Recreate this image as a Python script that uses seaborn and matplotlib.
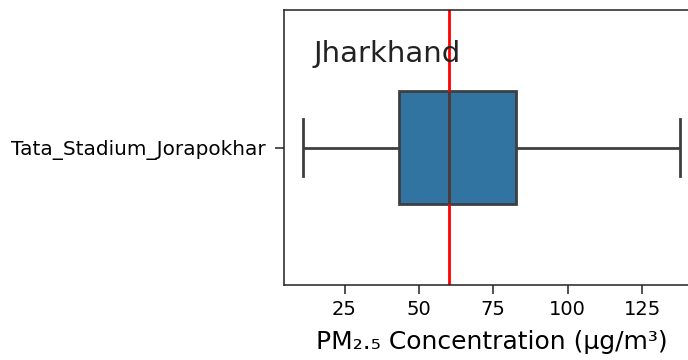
import matplotlib
matplotlib.use("Agg")
import matplotlib.pyplot as plt
import seaborn as sns
import pandas as pd

station = ["Tata_Stadium_Jorapokhar"] * 5
pm25 = [11.0, 43.4, 60.0, 82.5, 137.8]
state_name = "Jharkhand"
guideline = 60

df = pd.DataFrame({"station": station, "pm25": pm25})

fig = plt.figure(figsize=(6.88, 3.6), dpi=100)
ax = fig.add_axes([284/688, 75/360, 415/688, 275/360])
sns.boxplot(data=df, x="pm25", y="station", orient="h", width=0.41,
            color="#1f77b4", saturation=0.75, linewidth=2, linecolor="#3f3f3f",
            ax=ax, whis=1.5)
ax.axvline(guideline, color="red", linewidth=2)
ax.text(0.07, 0.84, state_name, transform=ax.transAxes, fontsize=21,
        va="center", ha="left", color="#222222")
ax.set_xticks([25, 50, 75, 100, 125])
ax.tick_params(axis="both", length=6.5, width=1.1, color="#222222")
ax.tick_params(axis="x", labelsize=14, pad=4)
ax.tick_params(axis="y", labelsize=14.4, pad=6.5)
ax.set_xlabel("PM₂.₅ Concentration (µg/m³)", fontsize=18, labelpad=8)
ax.set_ylabel("")
for s in ax.spines.values():
    s.set_color("#222222")
    s.set_linewidth(1.1)
fig.savefig("out.png", dpi=100)
